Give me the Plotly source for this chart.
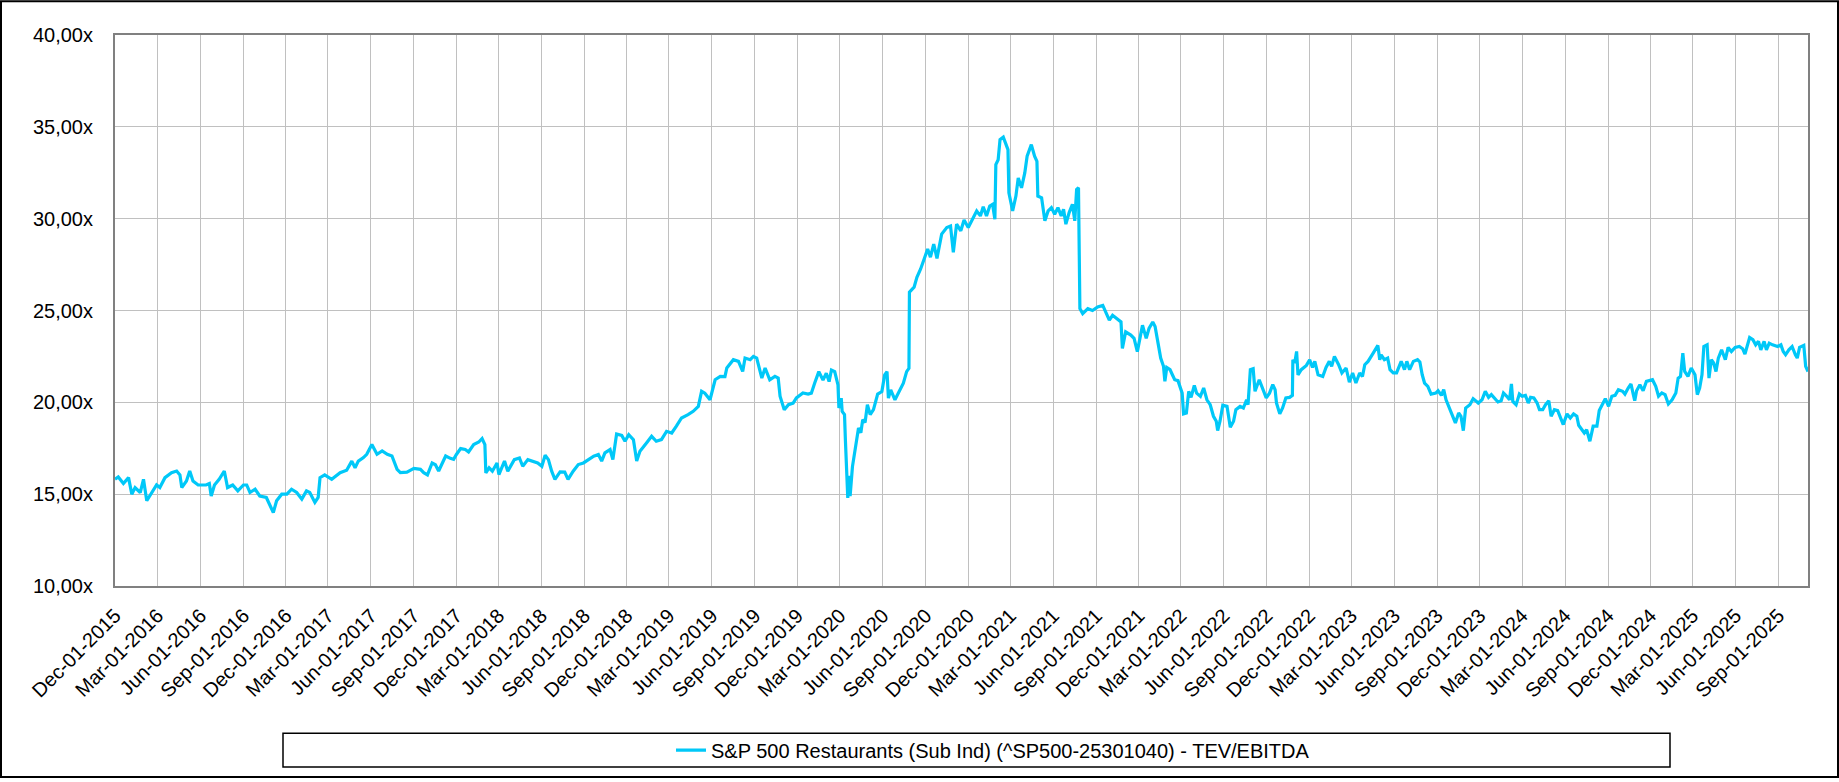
import plotly.graph_objects as go

# TEV/EBITDA multiple (approximate)
dates = [
    "2015-12-01", "2015-12-08", "2015-12-19", "2015-12-30",
    "2016-01-06", "2016-01-13", "2016-01-24", "2016-01-31", "2016-02-07", "2016-02-18", "2016-02-28",
    "2016-03-06", "2016-03-17", "2016-03-31", "2016-04-11", "2016-04-18", "2016-04-22", "2016-05-02",
    "2016-05-09", "2016-05-16", "2016-05-27", "2016-06-13", "2016-06-20", "2016-06-24", "2016-07-01",
    "2016-07-11", "2016-07-22", "2016-07-29", "2016-08-09", "2016-08-20", "2016-09-01", "2016-09-08",
    "2016-09-15", "2016-09-26", "2016-10-06", "2016-10-20", "2016-10-28", "2016-11-04", "2016-11-11",
    "2016-11-22", "2016-12-03", "2016-12-13", "2016-12-24",
    "2017-01-04", "2017-01-14", "2017-01-21", "2017-02-01", "2017-02-08", "2017-02-12", "2017-02-22",
    "2017-03-09", "2017-03-27", "2017-04-10", "2017-04-21", "2017-04-28", "2017-05-05", "2017-05-16",
    "2017-05-23", "2017-06-03", "2017-06-14", "2017-06-25", "2017-07-06", "2017-07-16", "2017-07-27",
    "2017-08-03", "2017-08-17", "2017-09-01", "2017-09-15", "2017-09-22", "2017-09-30", "2017-10-10",
    "2017-10-17", "2017-10-24", "2017-11-08", "2017-11-18", "2017-11-25", "2017-12-01", "2017-12-10",
    "2017-12-20", "2017-12-27",
    "2018-01-07", "2018-01-18", "2018-01-25", "2018-01-31", "2018-02-02", "2018-02-09", "2018-02-16",
    "2018-02-26", "2018-03-02", "2018-03-14", "2018-03-21", "2018-04-04", "2018-04-15", "2018-04-22",
    "2018-05-03", "2018-05-13", "2018-05-24", "2018-06-02", "2018-06-09", "2018-06-16", "2018-06-23",
    "2018-06-30", "2018-07-11", "2018-07-21", "2018-07-28", "2018-08-08", "2018-08-19", "2018-08-30",
    "2018-09-10", "2018-09-21", "2018-10-01", "2018-10-08", "2018-10-15", "2018-10-26", "2018-11-01",
    "2018-11-06", "2018-11-09", "2018-11-20", "2018-11-27", "2018-12-05", "2018-12-15", "2018-12-22",
    "2018-12-29",
    "2019-01-12", "2019-01-23", "2019-02-02", "2019-02-13", "2019-02-24", "2019-03-07", "2019-03-17",
    "2019-03-28", "2019-04-11", "2019-04-22", "2019-05-03", "2019-05-10", "2019-05-17", "2019-05-28",
    "2019-06-08", "2019-06-19", "2019-06-29", "2019-07-03", "2019-07-17", "2019-07-28", "2019-08-06",
    "2019-08-11", "2019-08-22", "2019-08-29", "2019-09-05", "2019-09-16", "2019-09-23", "2019-10-03",
    "2019-10-14", "2019-10-21", "2019-10-25", "2019-11-03", "2019-11-12", "2019-11-22", "2019-11-29",
    "2019-12-13", "2019-12-24", "2019-12-31",
    "2020-01-07", "2020-01-16", "2020-01-25", "2020-02-01", "2020-02-07", "2020-02-12", "2020-02-19",
    "2020-02-26", "2020-02-28", "2020-03-04", "2020-03-06", "2020-03-11", "2020-03-13", "2020-03-18",
    "2020-03-20", "2020-03-23", "2020-03-28", "2020-04-03", "2020-04-10", "2020-04-15", "2020-04-19",
    "2020-04-24", "2020-04-29", "2020-05-05", "2020-05-12", "2020-05-21", "2020-05-30", "2020-06-05",
    "2020-06-10", "2020-06-13", "2020-06-18", "2020-06-27", "2020-07-08", "2020-07-15", "2020-07-22",
    "2020-07-27", "2020-07-28", "2020-08-07", "2020-08-13", "2020-08-21", "2020-08-31", "2020-09-05",
    "2020-09-11", "2020-09-18", "2020-09-25", "2020-10-05", "2020-10-16", "2020-10-24", "2020-10-30",
    "2020-11-06", "2020-11-15", "2020-11-22", "2020-12-01", "2020-12-08", "2020-12-19", "2020-12-27",
    "2021-01-02", "2021-01-09", "2021-01-16", "2021-01-22", "2021-01-27", "2021-01-29", "2021-02-03",
    "2021-02-07", "2021-02-14", "2021-02-19", "2021-02-24", "2021-02-26", "2021-03-06", "2021-03-13",
    "2021-03-18", "2021-03-25", "2021-04-01", "2021-04-06", "2021-04-15", "2021-04-22", "2021-04-27",
    "2021-04-29", "2021-05-07", "2021-05-14", "2021-05-21", "2021-05-28", "2021-06-04", "2021-06-11",
    "2021-06-18", "2021-06-23", "2021-06-28", "2021-07-05", "2021-07-12", "2021-07-17", "2021-07-21",
    "2021-07-25", "2021-07-28", "2021-08-03", "2021-08-14", "2021-08-24", "2021-09-04", "2021-09-15",
    "2021-09-22", "2021-09-29", "2021-10-06", "2021-10-16", "2021-10-24", "2021-10-27", "2021-11-03",
    "2021-11-14", "2021-11-21", "2021-11-28", "2021-12-09", "2021-12-17", "2021-12-23", "2021-12-31",
    "2022-01-05", "2022-01-12", "2022-01-17", "2022-01-23", "2022-01-26", "2022-01-30", "2022-02-06",
    "2022-02-11", "2022-02-16", "2022-02-23", "2022-02-28", "2022-03-04", "2022-03-07", "2022-03-13",
    "2022-03-18", "2022-03-23", "2022-03-30", "2022-04-04", "2022-04-12", "2022-04-19", "2022-04-26",
    "2022-05-03", "2022-05-10", "2022-05-16", "2022-05-19", "2022-05-24", "2022-05-30", "2022-06-08",
    "2022-06-15", "2022-06-22", "2022-06-27", "2022-07-06", "2022-07-13", "2022-07-20", "2022-07-23",
    "2022-07-28", "2022-08-03", "2022-08-07", "2022-08-16", "2022-08-23", "2022-08-31", "2022-09-07",
    "2022-09-14", "2022-09-19", "2022-09-22", "2022-09-29", "2022-10-05", "2022-10-12", "2022-10-20",
    "2022-10-26", "2022-10-27", "2022-10-31", "2022-11-04", "2022-11-07", "2022-11-14", "2022-11-25",
    "2022-12-02", "2022-12-08", "2022-12-13", "2022-12-20", "2022-12-30",
    "2023-01-06", "2023-01-13", "2023-01-18", "2023-01-24", "2023-02-02", "2023-02-09", "2023-02-18",
    "2023-02-25", "2023-03-04", "2023-03-11", "2023-03-19", "2023-03-25", "2023-03-30", "2023-04-06",
    "2023-04-17", "2023-04-24", "2023-04-27", "2023-05-01", "2023-05-04", "2023-05-11", "2023-05-18",
    "2023-05-23", "2023-05-30", "2023-06-06", "2023-06-11", "2023-06-16", "2023-06-23", "2023-06-28",
    "2023-07-04", "2023-07-12", "2023-07-21", "2023-07-26", "2023-07-31", "2023-08-05", "2023-08-12",
    "2023-08-19", "2023-08-29", "2023-09-03", "2023-09-10", "2023-09-15", "2023-09-20", "2023-09-28",
    "2023-10-05", "2023-10-10", "2023-10-17", "2023-10-22", "2023-10-27", "2023-11-01", "2023-11-10",
    "2023-11-17", "2023-11-28", "2023-12-06", "2023-12-13", "2023-12-20", "2023-12-26",
    "2024-01-02", "2024-01-09", "2024-01-16", "2024-01-21", "2024-01-28", "2024-02-03", "2024-02-07",
    "2024-02-10", "2024-02-17", "2024-02-24", "2024-03-01", "2024-03-08", "2024-03-14", "2024-03-19",
    "2024-03-26", "2024-04-02", "2024-04-07", "2024-04-14", "2024-04-20", "2024-04-27", "2024-05-02",
    "2024-05-09", "2024-05-16", "2024-05-23", "2024-05-28", "2024-06-05", "2024-06-12", "2024-06-19",
    "2024-06-26", "2024-06-30", "2024-07-07", "2024-07-12", "2024-07-17", "2024-07-24", "2024-07-31",
    "2024-08-08", "2024-08-13", "2024-08-20", "2024-08-26", "2024-09-02", "2024-09-09", "2024-09-16",
    "2024-09-23", "2024-10-02", "2024-10-07", "2024-10-14", "2024-10-20", "2024-10-25", "2024-10-28",
    "2024-11-01", "2024-11-08", "2024-11-15", "2024-11-22", "2024-12-05", "2024-12-12", "2024-12-18",
    "2024-12-25",
    "2025-01-01", "2025-01-08", "2025-01-16", "2025-01-24", "2025-01-29", "2025-02-03", "2025-02-08",
    "2025-02-12", "2025-02-19", "2025-02-26", "2025-03-06", "2025-03-11", "2025-03-16", "2025-03-21",
    "2025-03-25", "2025-04-01", "2025-04-05", "2025-04-10", "2025-04-15", "2025-04-20", "2025-04-25",
    "2025-05-02", "2025-05-10", "2025-05-16", "2025-05-23", "2025-05-31", "2025-06-09", "2025-06-16",
    "2025-06-21", "2025-06-26", "2025-07-01", "2025-07-08", "2025-07-14", "2025-07-20", "2025-07-25",
    "2025-08-01", "2025-08-06", "2025-08-12", "2025-08-19", "2025-08-30", "2025-09-06", "2025-09-11",
    "2025-09-16", "2025-09-23", "2025-09-30", "2025-10-07", "2025-10-11", "2025-10-16", "2025-10-25",
    "2025-10-29", "2025-11-03",
]

tev_ebitda = [
    15.81, 15.94, 15.58, 15.90,
    15.00, 15.36, 15.09, 15.81, 14.64, 15.09, 15.50,
    15.36, 15.90, 16.17, 16.26, 16.05, 15.36, 15.72,
    16.26, 15.72, 15.50, 15.50, 15.58, 14.90, 15.50,
    15.81, 16.26, 15.36, 15.50, 15.18, 15.50, 15.50,
    15.09, 15.27, 14.90, 14.82, 14.37, 14.00, 14.64,
    15.00, 15.00, 15.27, 15.09,
    14.73, 15.18, 15.09, 14.55, 14.82, 15.90, 16.05,
    15.81, 16.17, 16.30, 16.80, 16.44, 16.80, 16.99,
    17.17, 17.70, 17.17, 17.35, 17.17, 17.08, 16.35,
    16.17, 16.20, 16.40, 16.35, 16.17, 16.05, 16.70,
    16.60, 16.26, 17.08, 16.95, 16.90, 17.16, 17.48,
    17.43, 17.30,
    17.70, 17.84, 18.03, 17.70, 16.16, 16.43, 16.25,
    16.70, 16.07, 16.80, 16.25, 16.88, 16.97, 16.52,
    16.88, 16.80, 16.70, 16.52, 17.12, 16.88, 16.25,
    15.80, 16.21, 16.20, 15.80, 16.25, 16.61, 16.70,
    16.88, 17.07, 17.16, 16.80, 17.25, 17.43, 16.88,
    17.88, 18.28, 18.20, 17.88, 18.24, 17.97, 16.80,
    17.34,
    17.79, 18.15, 17.88, 17.97, 18.42, 18.33, 18.70,
    19.15, 19.33, 19.51, 19.78, 20.60, 20.50, 20.14,
    21.23, 21.41, 21.40, 21.87, 22.32, 22.23, 21.68,
    22.41, 22.32, 22.50, 22.41, 21.32, 21.87, 21.23,
    21.41, 21.32, 20.33, 19.60, 19.87, 19.96, 20.24,
    20.51, 20.45, 20.50,
    21.04, 21.67, 21.22, 21.58, 21.13, 21.76, 21.67,
    20.95, 19.69, 20.23, 19.50, 19.33, 17.89, 14.80,
    16.00, 14.90, 16.50, 17.50, 18.60, 18.34, 19.06,
    18.90, 19.87, 19.33, 19.60, 20.45, 20.59, 21.49,
    21.67, 20.23, 20.68, 20.14, 20.68, 21.04, 21.67,
    21.85, 26.00, 26.27, 26.81, 27.26, 27.98, 28.35,
    27.90, 28.62, 27.84, 29.16, 29.52, 29.60, 28.17,
    29.70, 29.34, 29.93, 29.52, 29.88, 30.42, 30.15,
    30.65, 30.15, 30.69, 30.78, 29.97, 32.94, 33.21,
    34.30, 34.44, 34.10, 33.76, 31.41, 30.42, 31.23,
    32.22, 31.68, 32.49, 33.40, 34.03, 33.40, 33.12,
    31.23, 31.14, 29.88, 30.42, 30.60, 30.24, 30.60,
    30.15, 30.51, 29.70, 30.33, 30.78, 29.88, 31.59,
    31.68, 25.10, 24.83, 25.10, 25.00, 25.19, 25.28,
    24.92, 24.47, 24.74, 24.56, 24.38, 22.94, 23.84,
    23.66, 23.48, 22.76, 24.20, 23.48, 24.02, 24.37,
    24.13, 23.13, 22.41, 21.96, 21.14, 21.90, 21.78,
    21.50, 21.23, 21.18, 20.78, 20.50, 19.37, 19.42,
    20.60, 20.27, 20.92, 20.50, 20.33, 20.78, 20.14,
    19.87, 19.24, 18.97, 18.46, 18.97, 19.84, 19.78,
    18.64, 18.97, 19.60, 19.78, 19.69, 20.14, 19.87,
    21.78, 21.83, 20.60, 21.23, 20.78, 20.24, 20.50,
    20.96, 20.69, 19.96, 19.37, 19.69, 20.24, 20.27,
    20.38, 22.32, 22.14, 22.77, 21.50, 21.78, 22.01,
    22.32, 21.90, 22.23, 21.50, 21.41,
    21.90, 22.23, 21.96, 22.50, 22.05, 21.60, 21.87,
    21.10, 21.60, 21.05, 21.60, 21.41, 22.05, 22.23,
    22.68, 22.95, 23.10, 22.32, 22.59, 22.32, 22.41,
    21.78, 21.60, 21.60, 21.87, 22.23, 21.78, 22.23,
    21.78, 22.23, 22.32, 22.20, 21.50, 21.05, 20.87,
    20.45, 20.50, 20.63, 20.38, 20.69, 20.14, 19.60,
    19.15, 18.88, 19.42, 19.24, 18.46, 19.69, 19.87,
    20.20, 19.96, 20.14, 20.60, 20.27, 20.42,
    20.20, 20.02, 20.09, 20.51, 20.33, 20.14, 21.00,
    20.05, 19.87, 20.45, 20.33, 20.38, 19.96, 20.27,
    20.24, 19.96, 19.60, 19.60, 19.87, 20.09, 19.24,
    19.60, 19.55, 19.15, 18.79, 19.37, 19.15, 19.37,
    19.24, 18.75, 18.51, 18.33, 18.51, 17.88, 18.70,
    18.70, 19.55, 19.87, 20.20, 19.78, 20.33, 20.38,
    20.69, 20.60, 20.45, 20.78, 21.00, 20.42, 20.09,
    20.63, 20.96, 20.63, 21.14, 21.23, 20.87, 20.33,
    20.51,
    20.42, 19.91, 20.14, 20.51, 21.32, 21.41, 22.68,
    21.68, 21.41, 21.87, 21.50, 20.42, 20.78, 21.50,
    23.04, 23.13, 21.32, 22.32, 22.14, 21.68, 22.41,
    22.86, 22.32, 22.99, 22.77, 22.99, 23.04, 22.92,
    22.63, 23.04, 23.53, 23.41, 23.13, 23.32, 22.86,
    23.32, 22.86, 23.22, 23.13, 23.04, 23.13, 22.77,
    22.59, 22.86, 23.04, 22.59, 22.41, 22.99, 23.10,
    21.96, 21.68,
]

series_name = "S&P 500 Restaurants (Sub Ind) (^SP500-25301040) - TEV/EBITDA"
x_range = ["2015-12-01", "2025-11-03"]

W, H = 1839, 782
L, R, T, B = 115, 31, 35, 193
pw = W - L - R
ph = H - T - B


def px(x):
    return (x - L) / pw


def py(y):
    return (H - B - y) / ph


line = go.Scatter(
    x=dates,
    y=tev_ebitda,
    mode="lines",
    name=series_name,
    line=dict(color="#00C8F8", width=3.2),
)

layout = go.Layout(
    width=W,
    height=H,
    margin=dict(l=L, r=R, t=T, b=B),
    paper_bgcolor="white",
    plot_bgcolor="white",
    separators=",.",
    font=dict(family="Liberation Sans, Arial, sans-serif", size=20, color="black"),
    showlegend=True,
    legend=dict(
        orientation="h",
        x=px(993), xanchor="center",
        y=py(754), yanchor="middle",
        bgcolor="rgba(0,0,0,0)",
        font=dict(size=20, color="black"),
    ),
    xaxis=dict(
        type="date",
        range=x_range,
        tick0="2015-12-01",
        dtick="M3",
        tickformat="%b-%d-%Y",
        tickangle=-45,
        showgrid=True,
        gridcolor="#C0C0C0",
        gridwidth=1,
        showline=True,
        linecolor="#808080",
        linewidth=2,
        mirror=True,
        ticks="",
        zeroline=False,
        ticklabelstandoff=8,
    ),
    yaxis=dict(
        range=[10, 40],
        dtick=5,
        tickformat=".2f",
        ticksuffix="x",
        showgrid=True,
        gridcolor="#C0C0C0",
        gridwidth=1,
        showline=True,
        linecolor="#808080",
        linewidth=2,
        mirror=True,
        ticks="",
        zeroline=False,
        ticklabelstandoff=16,
    ),
    shapes=[
        # outer frame of the whole picture
        dict(type="rect", xref="paper", yref="paper",
             x0=px(1), x1=px(W - 1), y0=py(H - 1), y1=py(1),
             line=dict(color="black", width=2), layer="below"),
        # legend box
        dict(type="rect", xref="paper", yref="paper",
             x0=px(283), x1=px(1670), y0=py(771), y1=py(737),
             line=dict(color="black", width=1.5), layer="below"),
    ],
)

fig = go.Figure(data=[line], layout=layout)
# page margin off so the figure sits flush in the window
fig.write_html("out.html", config={"displayModeBar": False},
               post_script="document.body.style.margin='0';")
